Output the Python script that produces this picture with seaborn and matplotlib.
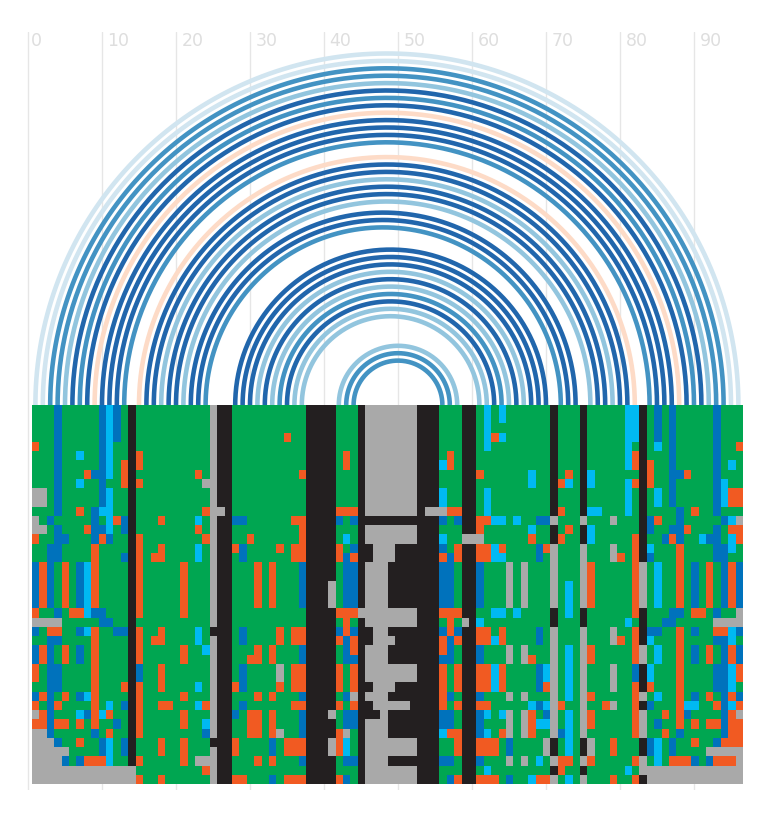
import numpy as np
import pandas as pd
import matplotlib
matplotlib.use("Agg")
import matplotlib.pyplot as plt
from matplotlib.colors import ListedColormap
import seaborn as sns

# alignment, one string per sequence, blocks of ten columns
alignment_rows = [
    "GGGBGGGGGB CBGKGGGGGG GGGGAKKGGG GGGGGGGKKK KGGGKAAAAA AAKKKGGGKK GCGCGGGGGG KGGGKGGGGG CCKGBGBGGG GGBGGG",
    "GGGBGGGGGB CBGKGGGGGG GGGGAKKGGG GGGGGGGKKK KGGGKAAAAA AAKKKGGGKK GCGCGGGGGG KGGGKGGGGG CCKGBGBGGG GGBGGG",
    "GGGBGGGGGB CBGKGGGGGG GGGGAKKGGG GGGGGGGKKK KGGGKAAAAA AAKKKGGGKK GCGGGGGGGG KGGGKGGGGG CCKGBGBGGG GGBGGG",
    "GGGBGGGGGB CBGKGGGGGG GGGGAKKGGG GGGGOGGKKK KGGGKAAAAA AAKKKGGGKK GCOCGGGGGG KGGGKGGGGG CCKGBGBGGG GGBGGG",
    "OGGBGGGGGB CGGKGGGGGG GGGGAKKGGG GGGGGGGKKK KGGGKAAAAA AAKKKGGGKK GCGGGGGGGG KGGGKGGGGG CGKGCGBGGG GGBGGO",
    "GGGBGGCGGB CGGKOGGGGG GGGGAKKGGG GGGGGGGKKK KGOGKAAAAA AAKKKGOGKK GGGGGGGGGG KGGGKGGGGG COKGGGBGGG GGBGGG",
    "GGGBGGGGGB CGOKOGGGGG GGGGAKKGGG GGGGGGGKKK KGOGKAAAAA AAKKKCOGKK GGGGGGGGGG KGGGKGGGGG COKOGGBGGG GGBGCG",
    "GGGBGGGOBB CGOKGGGGGG GGOGAKKGGG GGGGGGOKKK KGGGKAAAAA AAKKKGGGKK OGGGGGGCGG KGOGKCGGGG GGKOGGBBOG GGBGGG",
    "GGGBGGCGGB GGOKOGGGGG GGGAAKKGGG GGGGGGGKKK KGGGKAAAAA AAKKKGGGKK GGGGGGGCGG KOCGKCGGGG COKOGGBGGG GGBCGG",
    "AAGBGGGGGB CGGKGGGGGG GGGGAKKGGG GGGGGGGKKK KGGGKAAAAA AAKKKCGGKK GCGGGGGGGG KGGGKGGGGG CGKGCGBGGG GGBCOO",
    "AAGBGGGGGB CGGKGGGGGG GGGGAKKGGG GGGGGGGKKK KGGGKAAAAA AAKKKCGGKK GCGGGGGGGG KGGGKGGGGG CGKGCGBGGG GGBCOO",
    "GGGBGGOGBC CGGKGGGGGG GGGOAAKGGG GGGGGGGKKK KOOOKAAAAA AAKAAAOOKK GCGGGGGGGG KOGGKCCGGG CGKGGGGBGO GGBGGG",
    "AGBGGGGGBG COBKGGGOGG GGCGAKKBBG GGGGGOOKKK KBGBKKKKKK KKKKKBGBKK OOCCGCGGBB AGGGAGGGAG GGKBOGGBGG GGGBCA",
    "AAGBGGGOBB CGBKGGGGGG GGOGAKKGGG GGGGGGOKKK KGGGKAAAAA AAKKKGGGKK OGGGGGGCGG KGOGKCGGGG GGKBGGBBOG GGBGOO",
    "OGGBBGGGBO BGGKOGGGGG GGGOAKKGGO GGGGGGOKKK KGCGKAAAAA AAKKKCGGAA AGGGGGGOGG KOGGKCGGGG GOKGGBOBGG CBBGCO",
    "GGBBGGGGOG GGGKOGGOGG GGCGAKKOBG GGGOGOOKKK KOGBKKAAAK KKKKKBGOKK OOCOGGGGBO AGGGAGGGAG GOKCGGGOGG GGBBCG",
    "GGBBGGGGOG GGBKOGOOGG GGCGAKKGBG GGGGGOOKKK KOBOKKAAAK KKKKKOBOKK OOCCGGGGBG AGGGAGGGAO GOKBGGGOGG GGBBGG",
    "BOBGOGBCOG GGGKOGGGGG OGGGAKKGGG OGOGGGBKKK KGBBKAAAKK KKKKKBBGKK BGGGAGAGGG AGGGAOGGGG GOAGCGGOGB GOGBOB",
    "BOBGOGBCOG GGGKOGGGGG OGGGAKKGGG OGOGGGBKKK KGBBKAAAKK KKKKKBBGKK BGGGAGAGGG AGGGAOGGGG GOAGCGGOGB GOGBOB",
    "BOBGOGBCOG GGGKOGGGGG OGGGAKKGGG OGOGGGBKKK AGBBKAAAKK KKKKKBBGKK BGGGAGAGGG AGCGAOGGGG GOAGCGGOGB GOGBOB",
    "BOBGOGBCOG GGGKOGGGGG OGGGAKKGGG OGOGGGBKKK AGBBKAAAKK KKKKKBBGKK BGGGAGAGGG AGCGAOGGGG GOAGCGGOGB GOGBOB",
    "BOBGOGBCOG GGGKOGGGGG OGGGAKKGGG OGOGGGBKKK AGBBKAAAKK KKKKKBBGKK BGGGAGAGGG AGCGAOGGGG GOAGCGGOGB GOGBOB",
    "OGGBGOOCBB GGGKOGGGGG OGGGAKKGGG GGGGGGGKKK KOOOAAAAAA AAKKKOOOKK GGCCGCGGGG KGCGKGGGGG GOKGGGBBGO OGBGGA",
    "AAAAGGGGGB BGGKGGGGGG GGGGAKKGGG GGGGGGGKKK KGOGKAAAAA AAKKKGOGAK CGGGGGGGGG KGGGKGGGGG CGKGGBBGGG GGAAAA",
    "BGOOGGBCOG GBBKOGGOGG GGCGKKKGBG GGGOGOOKKK KBOBKKAAKK KKKKKBOBKK OOGOGGGGBG AGGGAGGGAG GOKBBGGOGB GGOOCB",
    "GGBBGGGGOG GGGKOGOOGG GGCGAKKGBG GGGOGOOKKK KOBOKKAAAK KKKKKOBOKK OOCOGGGGBG AGGGAGGGAO GOKCGGGOGG GGBBCG",
    "BOBGOGBGOG GGGKOGGGGG OGGCAKKGGG OGOGGGBKKK KGBOKAAAKK KKKKKOBGKK BGGGAGAGGG AGCGAOGGGG GOAGCGGOGB GOGBOB",
    "BOBGOGBGOG GGGKOGGGGG OGGGAKKGGO OGOGGGBKKK KGBBKAAAKK KKKKKBBGKK BGGGAGAOGG AGCGAOGGGG GOAGCGGOGB GOGBOB",
    "OGBBGGGGOG GGGKBGGOGG GGGGAKKGBG GGGAGOOKKK KOGOKAAAAA AAKKKOGOKK OOCOGGGGBC AGCGAGGGAG GBKCGGGOGG GGBBCO",
    "OGBBGGGGOG GGGKBGGOGG GGGGAKKGBG GGGAGOOKKK KOGOKAAAAA AAKKKOGOKK OOCOGGGGBC AGCGAGGGAG GBKCGGGOGG GGBBCO",
    "GGBBGGGGOG GGOKOGGOGG GGCGAKKOBG GGGOGOOKKK KOGOKKAAAK KKKKKOGOKK OOCOGGGGBO AGCGAGGGAG GOKOGGGOGG GGBBCG",
    "BOBGOGBCOG GGGKOGGGGG OGGGAKKGGG OGOGGGBKKK KGBAKAAAKK KKKKKOBGKK BGGGAGAGGG AGCGAOGGGG GOAGCGGOGB GOGBOB",
    "OGBOGGGGOG CGBKOGGOOG GGCOAKKGBG GGGGGOOKKK KOGOKKAAAA AKKKKOGOKK OOGGGGGCBC AOGGAGGOAG GOKBGGGOCC GGOBCO",
    "AOBGGGCBOC OGGKOGGGGG OGGGAKKBGO OGOGGGBKKK AGBBKKKAKK KKKKKBBGKK BCGCAGAOGB AGCGAOGGGG GOAGGOGOBG GGGBOA",
    "OOBOOGOGOG GBGKOGGGGG OGGCAKKGGO OGOGGGBKKK KGBBKAAAKK KKKKKBBGKK BGGGAGAOCC AGCGAOGGGG GOAGBGGOGO GOOBOO",
    "AABGGGGGBG OGGKOGGGGG GGGBAKKGGO OGOAGGBKKK KOAGKAAAKK KKKKKCOOKK BCGOAGAOGG ABCGAGGGGG GOAGGOGBGG GGGBOO",
    "AAABGGOGGB CGBKGGGOGG OGGGKKKOGG GGBGOOOKKK AOCGKAAAAA AAKKKGGOKK OOOGBGGGGA KGCGKAGGOG GGKBCGBGGO GGBOOO",
    "AAAAAGGGGB CGBKGGGOGG OGGGAKKOGG GGBGOOOKKK AOCGKAAAAA AAKKKGGOKK OOOGBGGGGA KGCGKAGGOG GGKBCGBGGG GAAAAA",
    "AAAABGBOOO CGGKOGGGGG OGAAAKKGGG OGOGGGBKKK KGBBKAAAKK KKKKKBBGKK BGGGAGAGCG AOOGAOGGGG GOAGCGOOOB GBOOOA",
    "AAAAAAAAAA AAAAGGGGGG GGGOAKKGGG GGGGGGGKKK KGGGKAAAAA AAKKKGGGKK GCGGGGGGGG KOGGKGGGGG CGAAAAAAAA AAAAAA",
    "AAAAAAAAAA AAAAOGGOGG GGGGAKKOOG GGBGOOOKKK KOBGKAAAAA AAKKKGBOKK OOOGBGGCOO AGCGAGGGOG GOKAAAAAAA AAAAAA",
]
state_codes = ["G", "B", "C", "O", "K", "A"]
state_colors = ["#00a651", "#0072bc", "#00b9f2", "#f15a22", "#231f20", "#a9a9a9"]

# paired positions, outermost arc first
pair_left = [1, 2, 3, 4, 5, 6, 7, 8, 9, 10, 11, 12, 13,
             15, 16, 17, 18, 19, 20, 21, 22, 23, 24,
             28, 29, 30, 31, 32, 33, 34, 35, 36, 37,
             42, 43, 44]
pair_right = [96, 95, 94, 93, 92, 91, 90, 89, 88, 87, 86, 85, 84,
              82, 81, 80, 79, 78, 77, 76, 74, 73, 72,
              70, 69, 68, 67, 66, 65, 64, 63, 62, 61,
              58, 57, 56]
pair_level = ["pale", "pale", "mid", "mid", "light", "dark", "mid", "dark", "peach", "dark", "dark", "dark", "mid",
              "peach", "dark", "dark", "light", "dark", "dark", "light", "dark", "dark", "mid",
              "dark", "dark", "dark", "light", "dark", "light", "mid", "dark", "light", "light",
              "light", "mid", "mid"]
level_colors = {"pale": "#d1e5f0", "light": "#92c5de", "mid": "#4393c3", "dark": "#2166ac", "peach": "#fddbc7"}

tick_values = [0, 10, 20, 30, 40, 50, 60, 70, 80, 90]


def draw_arcs(ax):
    """Semicircle from each left position to its partner."""
    theta = np.linspace(0, np.pi, 300)
    for left, right, level in zip(pair_left, pair_right, pair_level):
        center = (left + right) / 2
        radius = (right - left) / 2
        ax.plot(center + radius * np.cos(theta), radius * np.sin(theta),
                color=level_colors[level], lw=3.3, solid_capstyle="butt", zorder=3)


def draw_axis(ax):
    ax.set_xticks(tick_values)
    ax.set_yticks([])
    ax.tick_params(axis="x", length=0, labelbottom=False)
    ax.grid(axis="x", color="#e6e6e6", lw=1)
    ax.set_axisbelow(True)
    for spine in ax.spines.values():
        spine.set_visible(False)
    for value in tick_values:
        # the single digit label sits closer to its line
        offset = 0.35 if value == 0 else 0.75
        ax.text(value + offset, 48.5, str(value), color="#dedede", fontsize=12.5,
                ha="left", va="baseline", zorder=1)


def draw_alignment(ax):
    codes = [list(row.replace(" ", "")) for row in alignment_rows]
    data = pd.DataFrame(codes).map(state_codes.index)
    sns.heatmap(data, ax=ax, cmap=ListedColormap(state_colors), vmin=0, vmax=5,
                cbar=False, xticklabels=False, yticklabels=False)


def main():
    sns.set_theme(style="white")
    width, height = 768, 822
    fig = plt.figure(figsize=(width / 100, height / 100), dpi=100)

    # 7.4 px per position, position 0 at x=28, baseline at y=405
    ax = fig.add_axes([0, (height - 790) / height, 1, (790 - 32) / height])
    ax.set_xlim(-28 / 7.4, (width - 28) / 7.4)
    ax.set_ylim((405 - 790) / 7.4, (405 - 32) / 7.4)
    draw_axis(ax)
    draw_arcs(ax)

    ax_msa = fig.add_axes([32 / width, (height - 784) / height, (743 - 32) / width, (784 - 405) / height])
    draw_alignment(ax_msa)

    fig.savefig("out.png", dpi=100, facecolor="white")


if __name__ == "__main__":
    main()
